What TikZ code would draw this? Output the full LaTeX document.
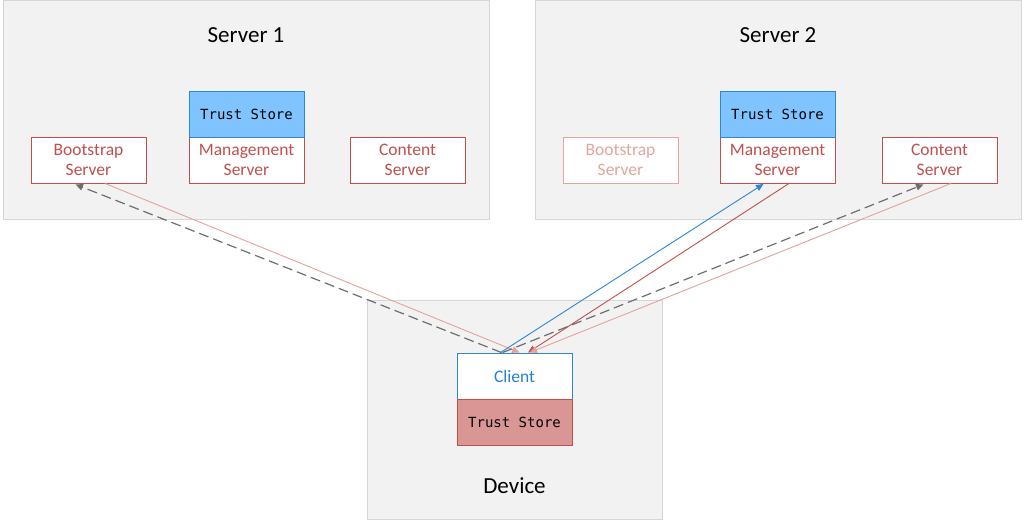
\documentclass[tikz,border=0pt]{standalone}
\usepackage{fontspec}
\setmainfont{Carlito}
\newfontfamily\monof{DejaVu Sans Mono}
\usetikzlibrary{arrows.meta,calc}
\definecolor{bggray}{HTML}{F2F2F2}
\definecolor{bgline}{HTML}{D6D6D6}
\definecolor{srvred}{HTML}{C0504D}
\definecolor{faded}{HTML}{E3A59E}
\definecolor{bluefill}{HTML}{80C4FF}
\definecolor{blueline}{HTML}{2E86D6}
\definecolor{clienttxt}{HTML}{2680CF}
\definecolor{redfill}{HTML}{D99694}
\definecolor{pinkline}{HTML}{E6A29A}
\definecolor{dashgray}{HTML}{6E6E6E}
\tikzset{
  group/.style={draw=bgline, fill=bggray, line width=1pt},
  title/.style={font=\fontsize{23}{26}\selectfont, text=black},
  srv/.style={draw=srvred, fill=white, line width=0.9pt, minimum width=115pt, minimum height=46pt, inner sep=0pt, align=center, text=srvred, font=\fontsize{17.5}{20}\selectfont},
  srvfaded/.style={srv, draw=faded, text=faded},
  tsblue/.style={draw=blueline, fill=bluefill, line width=0.9pt, minimum width=115pt, minimum height=46pt, inner sep=0pt, font=\monof\fontsize{14}{16}\selectfont, text=black},
  tsred/.style={draw=srvred, fill=redfill, line width=0.9pt, minimum width=115pt, minimum height=46pt, inner sep=0pt, font=\monof\fontsize{14}{16}\selectfont, text=black},
  clientbox/.style={draw=blueline, fill=white, line width=0.9pt, minimum width=115pt, minimum height=46pt, inner sep=0pt, font=\fontsize{17.5}{20}\selectfont, text=clienttxt},
  tip/.style={-{Triangle[length=7.5pt,width=6.5pt]}},
  dasharrow/.style={tip, draw=dashgray, line width=1.2pt, dash pattern=on 10pt off 5pt},
  pinkarrow/.style={tip, draw=pinkline, line width=0.9pt},
  redarrow/.style={tip, draw=srvred, line width=0.9pt},
  bluearrow/.style={tip, draw=blueline, line width=0.9pt}
}
\begin{document}
\begin{tikzpicture}[x=1pt,y=-1pt]
\useasboundingbox (0,0) rectangle (1024,521);
\fill[white] (0,0) rectangle (1024,521);
% groups
\node[group, minimum width=486pt, minimum height=219pt, inner sep=0pt] (g1) at (246,110.5) {};
\node[group, minimum width=486pt, minimum height=219pt, inner sep=0pt] (g2) at (778,110.5) {};
\node[group, minimum width=295pt, minimum height=219pt, inner sep=0pt] (g3) at (514.5,409.5) {};
\node[title] (t1) at (246,35) {Server 1};
\node[title] (t2) at (778,35) {Server 2};
\node[title] (t3) at (514.5,486) {Device};
% server 1
\node[srv] (b1) at (88.5,160) {Bootstrap\\Server};
\node[srv] (m1) at (246.5,160) {Management\\Server};
\node[tsblue] (ts1) at (246.5,114) {Trust Store};
\node[srv] (c1) at (407.5,160) {Content\\Server};
% server 2
\node[srvfaded] (b2) at (620.5,160) {Bootstrap\\Server};
\node[srv] (m2) at (777.5,160) {Management\\Server};
\node[tsblue] (ts2) at (777.5,114) {Trust Store};
\node[srv] (c2) at (939.5,160) {Content\\Server};
% device
\node[clientbox] (cl) at (514.5,376) {Client};
\node[tsred] (ts3) at (514.5,422) {Trust Store};
% connectors
\draw[pinkarrow] ($(b1.south)+(16.5,0)$) -- ($(cl.north)+(5,0)$);
\draw[dasharrow] ($(cl.north)+(-13,0)$) -- ($(b1.south)+(-13,1)$);
\draw[bluearrow] ($(cl.north)+(-14,0)$) -- ($(m2.south)+(-14,0.5)$);
\draw[redarrow] ($(m2.south)+(11.5,0)$) -- ($(cl.north)+(13.5,0)$);
\draw[dasharrow] ($(cl.north)+(-12,0)$) -- ($(c2.south)+(-16,1)$);
\draw[pinkarrow] ($(c2.south)+(11.5,0)$) -- ($(cl.north)+(15,0)$);
\end{tikzpicture}
\end{document}
